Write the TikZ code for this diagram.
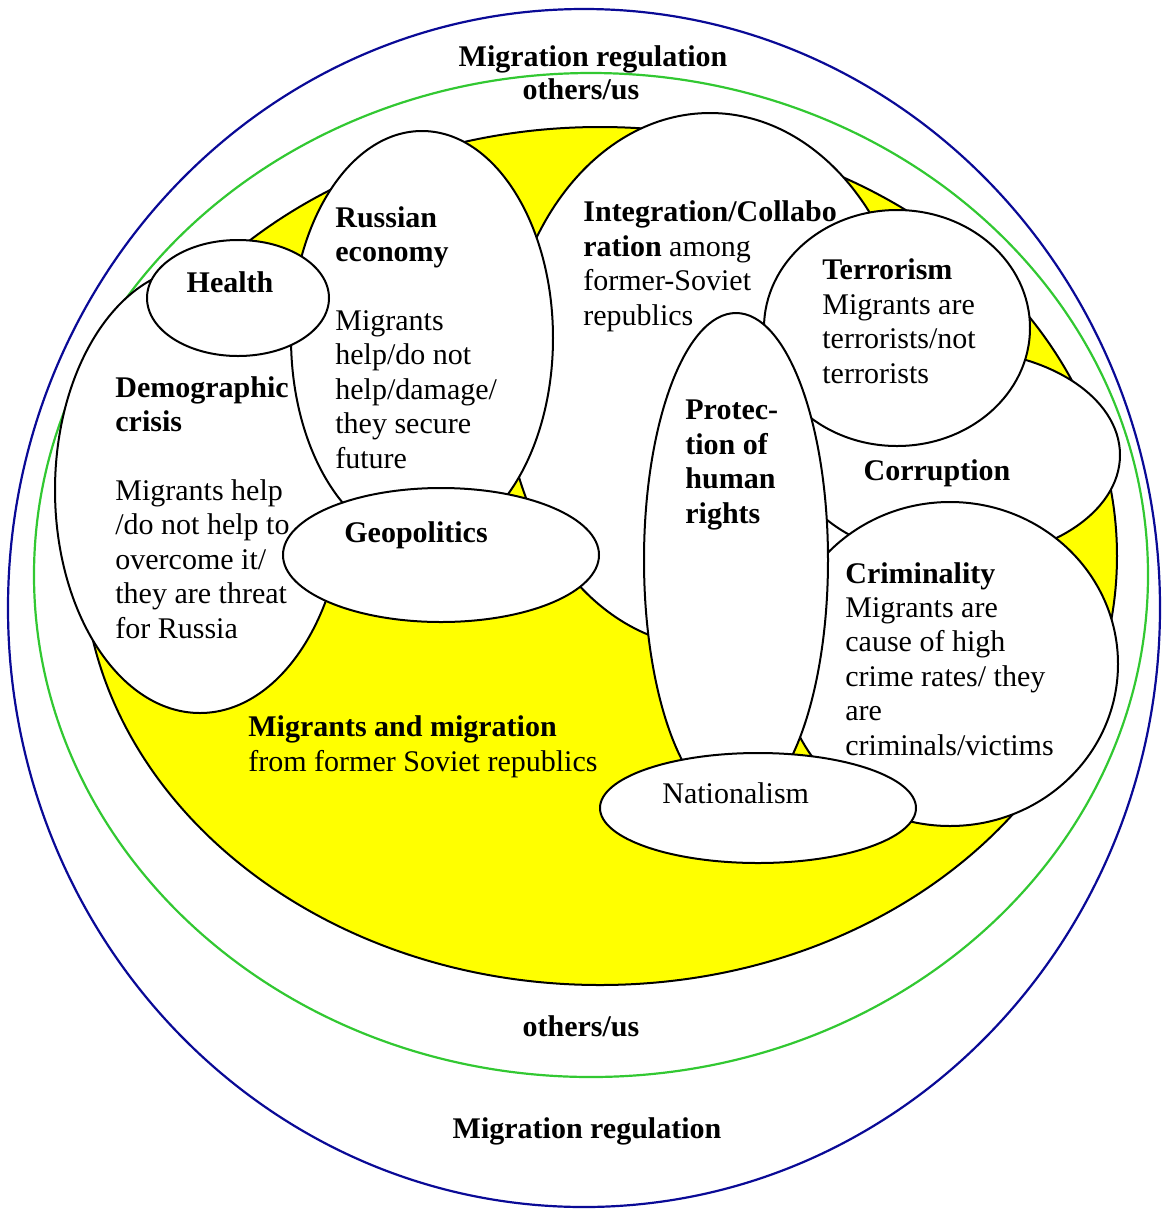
\documentclass[tikz,border=0pt]{standalone}
\usepackage{fontspec}
\setmainfont{Liberation Serif}
\usepackage{tikz}
\usetikzlibrary{positioning}
\definecolor{ringblue}{RGB}{10,10,150}
\definecolor{ringgreen}{RGB}{50,200,50}
\definecolor{coreyellow}{RGB}{255,255,0}

\begin{document}
\begin{tikzpicture}[
    x=0.5pt, y=-0.5pt,
    ring/.style={line width=1.1pt},
    bubble/.style={draw=black, fill=white, line width=1pt},
    txt/.style={anchor=base west, align=left, inner sep=0pt, font=\fontsize{15}{17.2}\selectfont},
    head/.style={anchor=base, inner sep=0pt, font=\fontsize{15}{17.2}\selectfont\bfseries}
]
    \useasboundingbox (0,0) rectangle (1163,1212);

    % outer rings
    \draw [ring, draw=ringblue] (584,608) ellipse (576 and 599);
    \draw [ring, draw=ringgreen] (591,575) ellipse (557 and 502);
    \draw [bubble, fill=coreyellow] (600,556) ellipse (517 and 429);

    % topics, back to front
    \draw [bubble] (710,380) ellipse (205 and 267);
    \draw [bubble] (200,490) ellipse (145 and 223);
    \draw [bubble] (422,338) ellipse (131 and 207);
    \draw [bubble] (238,298) ellipse (91 and 58);
    \draw [bubble] (441,555) ellipse (158 and 67);
    \draw [bubble] (956,455) ellipse (164 and 105);
    \draw [bubble] (897,328) ellipse (133 and 118);
    \draw [bubble] (950,664) ellipse (168 and 162);
    \draw [bubble] (736,560) ellipse (92 and 247);
    \draw [bubble] (758,808) ellipse (158 and 55);

    \node [head] (regtop) at (593,66) {Migration regulation};
    \node [head] (ustop) at (581,99) {others/us};
    \node [head] (usbot) at (581,1036) {others/us};
    \node [head] (regbot) at (587,1138) {Migration regulation};

    \node [head] (health) at (230,292) {Health};
    \node [head] (geopol) at (416,542) {Geopolitics};
    \node [head] (corrupt) at (937,480) {Corruption};
    \node [txt] (nation) at (662,803) {Nationalism};

    % multi-line texts sit on their last baseline
    \node [txt] (demog) at (115,638) {\textbf{Demographic}\\\textbf{crisis}\\[17.2pt]Migrants help\\/do not help to\\overcome it/\\they are threat\\for Russia};
    \node [txt] (econ) at (335,468) {\textbf{Russian}\\\textbf{economy}\\[17.2pt]Migrants\\help/do not\\help/damage/\\they secure\\future};
    \node [txt] (integr) at (583,325) {\textbf{Integration/Collabo}\\\textbf{ration} among\\former-Soviet\\republics};
    \node [txt] (terror) at (822,383) {\textbf{Terrorism}\\Migrants are\\terrorists/not\\terrorists};
    \node [txt] (rights) at (685,523) {\textbf{Protec-}\\\textbf{tion of}\\\textbf{human}\\\textbf{rights}};
    \node [txt] (crime) at (845,755) {\textbf{Criminality}\\Migrants are\\cause of high\\crime rates/ they\\are\\criminals/victims};
    \node [txt] (migr) at (248,771) {\textbf{Migrants and migration}\\from former Soviet republics};
\end{tikzpicture}
\end{document}
